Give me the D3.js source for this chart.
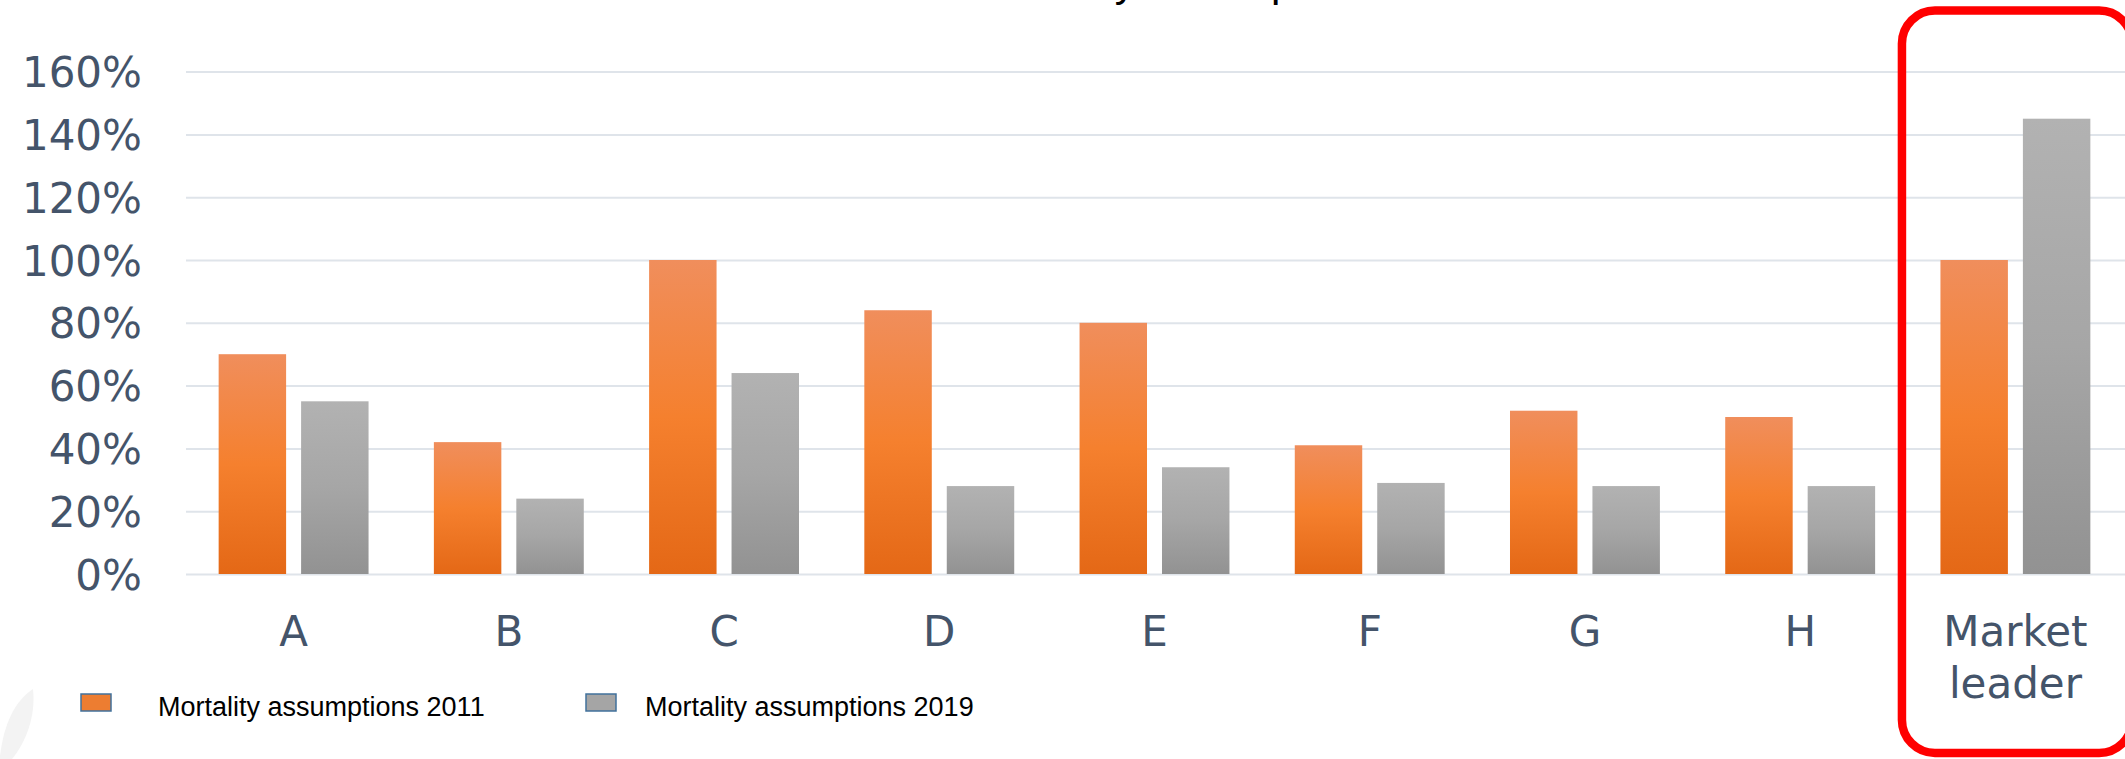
<!DOCTYPE html>
<html>
<head>
<meta charset="utf-8">
<script src="https://cdn.jsdelivr.net/npm/d3@7"></script>
<style>
  html, body { margin: 0; padding: 0; background: #ffffff; }
  svg { display: block; }
</style>
</head>
<body>
<svg id="chart" width="2125" height="759"></svg>
<script>
// Mortality assumptions per insurer, expressed as % of the reference table
const categories = ["A", "B", "C", "D", "E", "F", "G", "H", "Market leader"];
const values2011 = [0.70, 0.42, 1.00, 0.84, 0.80, 0.41, 0.52, 0.50, 1.00];
const values2019 = [0.55, 0.24, 0.64, 0.28, 0.34, 0.29, 0.28, 0.28, 1.45];
const seriesNames = ["Mortality assumptions 2011", "Mortality assumptions 2019"];
const yTicks = [0, 0.2, 0.4, 0.6, 0.8, 1.0, 1.2, 1.4, 1.6];
const chartTitle = "Mortality assumptions";
const highlighted = "Market leader";

const W = 2125, H = 759;
const plot = { left: 186, right: 2123, top: 71.6, bottom: 574 };

const svg = d3.select("#chart");

// gradients for the two series
const defs = svg.append("defs");
const gOrange = defs.append("linearGradient").attr("id", "grad2011")
  .attr("x1", 0).attr("y1", 0).attr("x2", 0).attr("y2", 1);
gOrange.append("stop").attr("offset", "0%").attr("stop-color", "#f08e5c");
gOrange.append("stop").attr("offset", "50%").attr("stop-color", "#f5802e");
gOrange.append("stop").attr("offset", "100%").attr("stop-color", "#e46816");
const gGrey = defs.append("linearGradient").attr("id", "grad2019")
  .attr("x1", 0).attr("y1", 0).attr("x2", 0).attr("y2", 1);
gGrey.append("stop").attr("offset", "0%").attr("stop-color", "#b2b2b2");
gGrey.append("stop").attr("offset", "50%").attr("stop-color", "#a6a6a6");
gGrey.append("stop").attr("offset", "100%").attr("stop-color", "#929292");

// faint leaf mark in the lower-left corner
svg.append("path")
  .attr("d", "M0,756 C4,724 14,702 33,689 C36,716 26,742 12,759 L0,759 Z")
  .attr("fill", "#f3f3f3");

// scales
const x0 = d3.scaleBand()
  .domain(categories)
  .range([plot.left, plot.right])
  .paddingInner(0.3035)
  .paddingOuter(0.1517);

const x1 = d3.scaleBand()
  .domain(["2011", "2019"])
  .range([0, x0.bandwidth()])
  .paddingInner(0.1818)
  .paddingOuter(0);

const y = d3.scaleLinear()
  .domain([0, 1.6])
  .range([plot.bottom, plot.top]);

// y axis with gridlines
const yAxis = svg.append("g")
  .attr("transform", `translate(${plot.left},0)`)
  .call(d3.axisLeft(y)
    .tickValues(yTicks)
    .tickFormat(d3.format(".0%"))
    .tickSize(-(W - plot.left))
    .tickPadding(44));
yAxis.select(".domain").remove();
yAxis.selectAll(".tick line")
  .attr("stroke", "#dfe4ea")
  .attr("stroke-width", 2);
yAxis.selectAll(".tick text")
  .attr("dy", "0.36em")
  .attr("fill", "#44546a")
  .style("font-family", "'DejaVu Sans', Verdana, sans-serif")
  .style("font-size", "42px");

// bars
const rows = categories.map((c, i) => ({ cat: c, v2011: values2011[i], v2019: values2019[i] }));
const groups = svg.append("g").selectAll("g")
  .data(rows)
  .join("g")
  .attr("transform", d => `translate(${x0(d.cat)},0)`);

groups.append("rect")
  .attr("x", x1("2011"))
  .attr("y", d => y(d.v2011))
  .attr("width", x1.bandwidth())
  .attr("height", d => y(0) - y(d.v2011))
  .attr("fill", "url(#grad2011)");

groups.append("rect")
  .attr("x", x1("2019"))
  .attr("y", d => y(d.v2019))
  .attr("width", x1.bandwidth())
  .attr("height", d => y(0) - y(d.v2019))
  .attr("fill", "url(#grad2019)");

// x axis labels
const xAxis = svg.append("g")
  .attr("transform", `translate(0,${plot.bottom})`)
  .call(d3.axisBottom(x0).tickSize(0).tickPadding(42));
xAxis.select(".domain").remove();
xAxis.selectAll(".tick text")
  .attr("fill", "#44546a")
  .style("font-family", "'DejaVu Sans', Verdana, sans-serif")
  .style("font-size", "42px")
  .each(function (d) {
    const words = d.split(" ");
    if (words.length > 1) {
      const t = d3.select(this);
      t.text(null);
      words.forEach((w, i) => {
        t.append("tspan")
          .attr("x", 0)
          .attr("dy", i === 0 ? "0.71em" : "1.25em")
          .text(w);
      });
      t.attr("dy", null);
    }
  });

// highlight frame around the market leader
const hx = x0(highlighted);
svg.append("rect")
  .attr("x", hx - 38.5)
  .attr("y", 10.5)
  .attr("width", x0.step() + 15)
  .attr("height", 742.5)
  .attr("rx", 33)
  .attr("ry", 33)
  .attr("fill", "none")
  .attr("stroke", "#ff0000")
  .attr("stroke-width", 8.5);

// title (sits above the visible area, only descenders show)
svg.append("text")
  .attr("x", 977)
  .attr("y", -4)
  .attr("fill", "#000000")
  .style("font-family", "'Liberation Sans', Arial, sans-serif")
  .style("font-size", "42px")
  .text(chartTitle);

// legend
const legendX = [81, 586];
const legendTextX = [158, 645];
const legendFill = ["#ed7d31", "#a5a5a5"];
const legend = svg.append("g").selectAll("g")
  .data(seriesNames)
  .join("g");
legend.append("rect")
  .attr("x", (d, i) => legendX[i])
  .attr("y", 694)
  .attr("width", 30)
  .attr("height", 17)
  .attr("fill", (d, i) => legendFill[i])
  .attr("stroke", "#41719c")
  .attr("stroke-width", 1.5);
legend.append("text")
  .attr("x", (d, i) => legendTextX[i])
  .attr("y", 716)
  .attr("fill", "#000000")
  .style("font-family", "'Liberation Sans', Arial, sans-serif")
  .style("font-size", "27px")
  .text(d => d);
</script>
</body>
</html>
